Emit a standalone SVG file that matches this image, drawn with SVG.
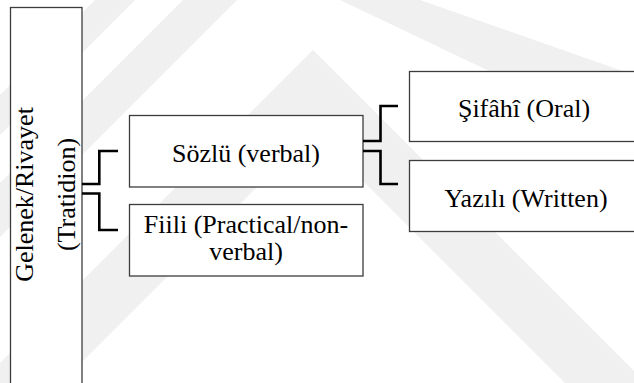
<svg xmlns="http://www.w3.org/2000/svg" width="634" height="383" viewBox="0 0 634 383">
  <style>
    .wm { fill: #f0f0f0; stroke: none; }
    .box { fill: #ffffff; stroke: #3c3c3c; stroke-width: 1.3; }
    .lbl { font-size: 26px; fill: #000000; text-anchor: middle; }
    .link { fill: none; stroke: #000000; stroke-width: 2.6; stroke-linejoin: miter; stroke-linecap: butt; }
  </style>

  <rect x="0" y="0" width="634" height="383" fill="#ffffff"/>

  <!-- faint background watermark bands -->
  <g id="watermark">
    <polygon class="wm" points="95,0 135,0 0,135 0,95"/>
    <polygon class="wm" points="183,0 237,0 0,237 0,183"/>
    <polygon class="wm" points="340,0 420,0 634,75 634,140"/>
    <polygon class="wm" points="313,50 383,120 634,371 634,383 565,383 313,131 61,383 0,383 0,363"/>
  </g>

  <!-- root: vertical box -->
  <g id="node-gelenek">
    <rect class="box" x="10.5" y="7.5" width="71.5" height="390"/>
    <text class="lbl" font-family="Liberation Serif, DejaVu Serif, serif" transform="translate(33,194.5) rotate(-90)">Gelenek/Rivayet</text>
    <text class="lbl" font-family="Liberation Serif, DejaVu Serif, serif" transform="translate(75,194.5) rotate(-90)">(Tratidion)</text>
  </g>

  <g id="node-sozlu">
    <rect class="box" x="129.5" y="115.5" width="233.5" height="71.5"/>
    <text class="lbl" font-family="Liberation Serif, DejaVu Serif, serif" x="246" y="161.5">Sözlü (verbal)</text>
  </g>

  <g id="node-fiili">
    <rect class="box" x="129.5" y="204.5" width="233.5" height="71.5"/>
    <text class="lbl" font-family="Liberation Serif, DejaVu Serif, serif" x="246" y="233">Fiili (Practical/non-</text>
    <text class="lbl" font-family="Liberation Serif, DejaVu Serif, serif" x="246" y="260">verbal)</text>
  </g>

  <g id="node-sifahi">
    <rect class="box" x="409.5" y="71.5" width="232" height="70"/>
    <text class="lbl" font-family="Liberation Serif, DejaVu Serif, serif" x="524" y="117">Şifâhî (Oral)</text>
  </g>

  <g id="node-yazili">
    <rect class="box" x="409.5" y="160.5" width="232" height="71"/>
    <text class="lbl" font-family="Liberation Serif, DejaVu Serif, serif" x="526" y="206.5">Yazılı (Written)</text>
  </g>

  <!-- bracket connectors -->
  <g id="connectors">
    <path class="link" d="M82,184 H99.3 V151 H118"/>
    <path class="link" d="M82,193.5 H99.3 V230 H118"/>
    <path class="link" d="M363,141 H380.5 V106 H398"/>
    <path class="link" d="M363,151 H380.5 V184 H398"/>
  </g>
</svg>
